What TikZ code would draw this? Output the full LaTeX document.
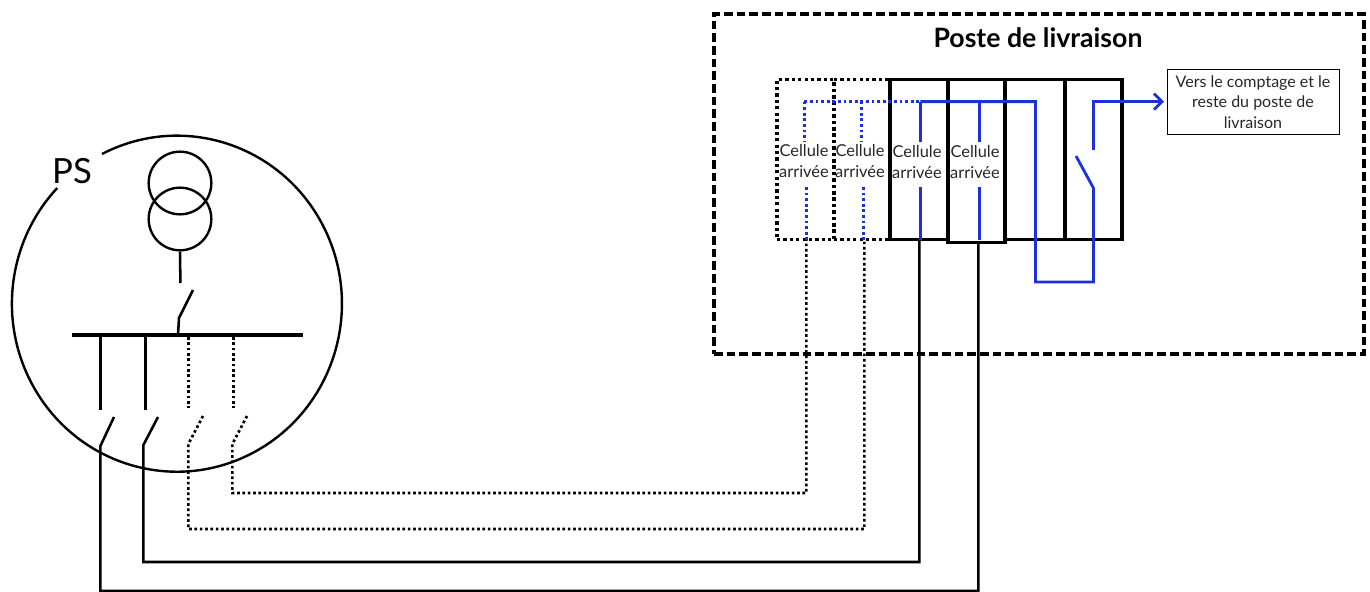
\documentclass[tikz,border=0pt]{standalone}
\usepackage{fontspec}
\setmainfont{Lato}
\usetikzlibrary{arrows.meta}
\definecolor{wire}{HTML}{1A32D8}
\tikzset{
  blk/.style={draw=black,line width=1.9pt},
  dotl/.style={draw=black,line width=2pt,dash pattern=on 2pt off 2pt},
  cellsolid/.style={draw=black,line width=2.6pt},
  celldot/.style={draw=black,line width=2.4pt,dash pattern=on 2.4pt off 2.4pt},
  blu/.style={draw=wire,line width=2.1pt},
  bludot/.style={draw=wire,line width=2.1pt,dash pattern=on 2.1pt off 2.1pt},
  celltxt/.style={font=\fontsize{12.3pt}{15.5pt}\selectfont,align=center,inner sep=0pt,text=black!85},
}
\begin{document}
\begin{tikzpicture}[x=0.75pt,y=-0.75pt]
\useasboundingbox (0,0) rectangle (1370,592);
% PS circle with a gap for the label
\draw[line width=1.8pt] (102,154) arc[start angle=-117,end angle=223.5,x radius=165,y radius=168];
\node[inner sep=0pt,font=\fontsize{26pt}{30pt}\selectfont] (ps) at (72,171) {PS};
% transformer
\node[draw,circle,line width=1.8pt,minimum size=47pt,inner sep=0pt] (t1) at (180,183) {};
\node[draw,circle,line width=1.8pt,minimum size=47pt,inner sep=0pt] (t2) at (180,219) {};
% bus bar
\coordinate (busL) at (72,335); \coordinate (busR) at (303,335);
\draw[line width=3pt] (busL) -- (busR);
\coordinate (tbot) at (180.4,283);
\draw[blk] (t2.south) -- (tbot);
\coordinate (sa) at (193,290); \coordinate (sb) at (179,318); \coordinate (sc) at (178,335);
\draw[blk] (sa) -- (sb) -- (sc);
% feeders above the switches
\coordinate (f1) at (100.4,335); \coordinate (f1e) at (100.4,410);
\coordinate (f2) at (145.4,337); \coordinate (f2e) at (145.4,410);
\coordinate (f3) at (188.4,337); \coordinate (f3e) at (188.4,408);
\coordinate (f4) at (233.4,337); \coordinate (f4e) at (233.4,408);
\draw[blk] (f1) -- (f1e);
\draw[blk] (f2) -- (f2e);
\draw[dotl] (f3) -- (f3e);
\draw[dotl] (f4) -- (f4e);
% delivery post
\node[draw,line width=2.4pt,dash pattern=on 6.5pt off 3pt,minimum width=487.5pt,minimum height=255pt,inner sep=0pt] (poste) at (1039,184) {};
\node[inner sep=0pt,font=\fontsize{20pt}{24pt}\selectfont\bfseries] (titre) at (1038,38) {Poste de livraison};
% cells
\node[celldot,minimum width=42.75pt,minimum height=120pt,inner sep=0pt] (c1) at (805.5,159.5) {};
\node[celldot,minimum width=42pt,minimum height=120pt,inner sep=0pt] (c2) at (862,159.5) {};
\node[cellsolid,minimum width=43.5pt,minimum height=120pt,inner sep=0pt] (c3) at (919,159.5) {};
\node[cellsolid,minimum width=42.75pt,minimum height=122.25pt,inner sep=0pt] (c4) at (976.5,161) {};
\node[cellsolid,minimum width=45pt,minimum height=120pt,inner sep=0pt] (c5) at (1035,159.5) {};
\node[cellsolid,minimum width=42.75pt,minimum height=120pt,inner sep=0pt] (c6) at (1093.5,159.5) {};
\node[celltxt] (l1) at (804,161) {Cellule\\arrivée};
\node[celltxt] (l2) at (860,161) {Cellule\\arrivée};
\node[celltxt] (l3) at (917,162) {Cellule\\arrivée};
\node[celltxt] (l4) at (975,162) {Cellule\\arrivée};
% target box
\node[draw,line width=0.75pt,minimum width=129pt,minimum height=48pt,inner sep=0pt,align=center,font=\fontsize{12pt}{15.2pt}\selectfont,text=black!85] (vers) at (1253,102) {Vers le comptage et le\\reste du poste de\\livraison};
% black links
\coordinate (k1) at (114,417); \coordinate (k1b) at (100.4,446);
\coordinate (k2) at (158,417); \coordinate (k2b) at (143.4,445);
\coordinate (k3) at (203,416); \coordinate (k3b) at (188.4,444);
\coordinate (k4) at (247,416); \coordinate (k4b) at (232.4,444);
\coordinate (g1) at (100.4,591); \coordinate (g1r) at (978.4,591); \coordinate (g1t) at (978.4,242);
\coordinate (g2) at (143.4,562); \coordinate (g2r) at (919.4,562); \coordinate (g2t) at (919.4,240);
\coordinate (g3) at (188.4,529); \coordinate (g3r) at (864.4,529); \coordinate (g3t) at (864.4,240);
\coordinate (g4) at (232.4,493); \coordinate (g4r) at (806.4,493); \coordinate (g4t) at (806.4,240);
\draw[blk] (k1) -- (k1b) -- (g1) -- (g1r) -- (g1t);
\draw[blk] (k2) -- (k2b) -- (g2) -- (g2r) -- (g2t);
\draw[dotl] (k3) -- (k3b) -- (g3) -- (g3r) -- (g3t);
\draw[dotl] (k4) -- (k4b) -- (g4) -- (g4r) -- (g4t);
% blue bus
\coordinate (b0) at (804.4,101.6); \coordinate (b1) at (861.4,101.6); \coordinate (b2) at (920.4,101.6);
\coordinate (b3) at (979.4,101.6); \coordinate (b4) at (1035.4,101.6);
\coordinate (b5) at (1035.4,282); \coordinate (b6) at (1093.4,282);
\coordinate (b7) at (1093.4,188); \coordinate (b8) at (1076,156);
\coordinate (b9) at (1093.4,150); \coordinate (b10) at (1093.4,101.6);
\coordinate (arrow) at (1164,101.6);
\draw[bludot] (b0) -- (b2);
\draw[blu] (b2) -- (b4) -- (b5) -- (b6) -- (b7) -- (b8);
\draw[blu,-{Straight Barb[length=6pt,width=12pt,line width=2.1pt]}] (b9) -- (b10) -- (arrow);
\coordinate (u0) at (804.4,142); \coordinate (u1) at (861.4,142); \coordinate (u2) at (920.4,142); \coordinate (u3) at (979.4,142);
\coordinate (v0) at (806.4,187); \coordinate (v1) at (863.4,187); \coordinate (v2) at (920.4,187); \coordinate (v3) at (979.4,187);
\coordinate (w0) at (806.4,240); \coordinate (w1) at (863.4,240); \coordinate (w2) at (920.4,240); \coordinate (w3) at (979.4,240);
\draw[bludot] (b0) -- (u0);
\draw[bludot] (b1) -- (u1);
\draw[blu] (b2) -- (u2);
\draw[blu] (b3) -- (u3);
\draw[bludot] (v0) -- (w0);
\draw[bludot] (v1) -- (w1);
\draw[blu] (v2) -- (w2);
\draw[blu] (v3) -- (w3);
\end{tikzpicture}
\end{document}
